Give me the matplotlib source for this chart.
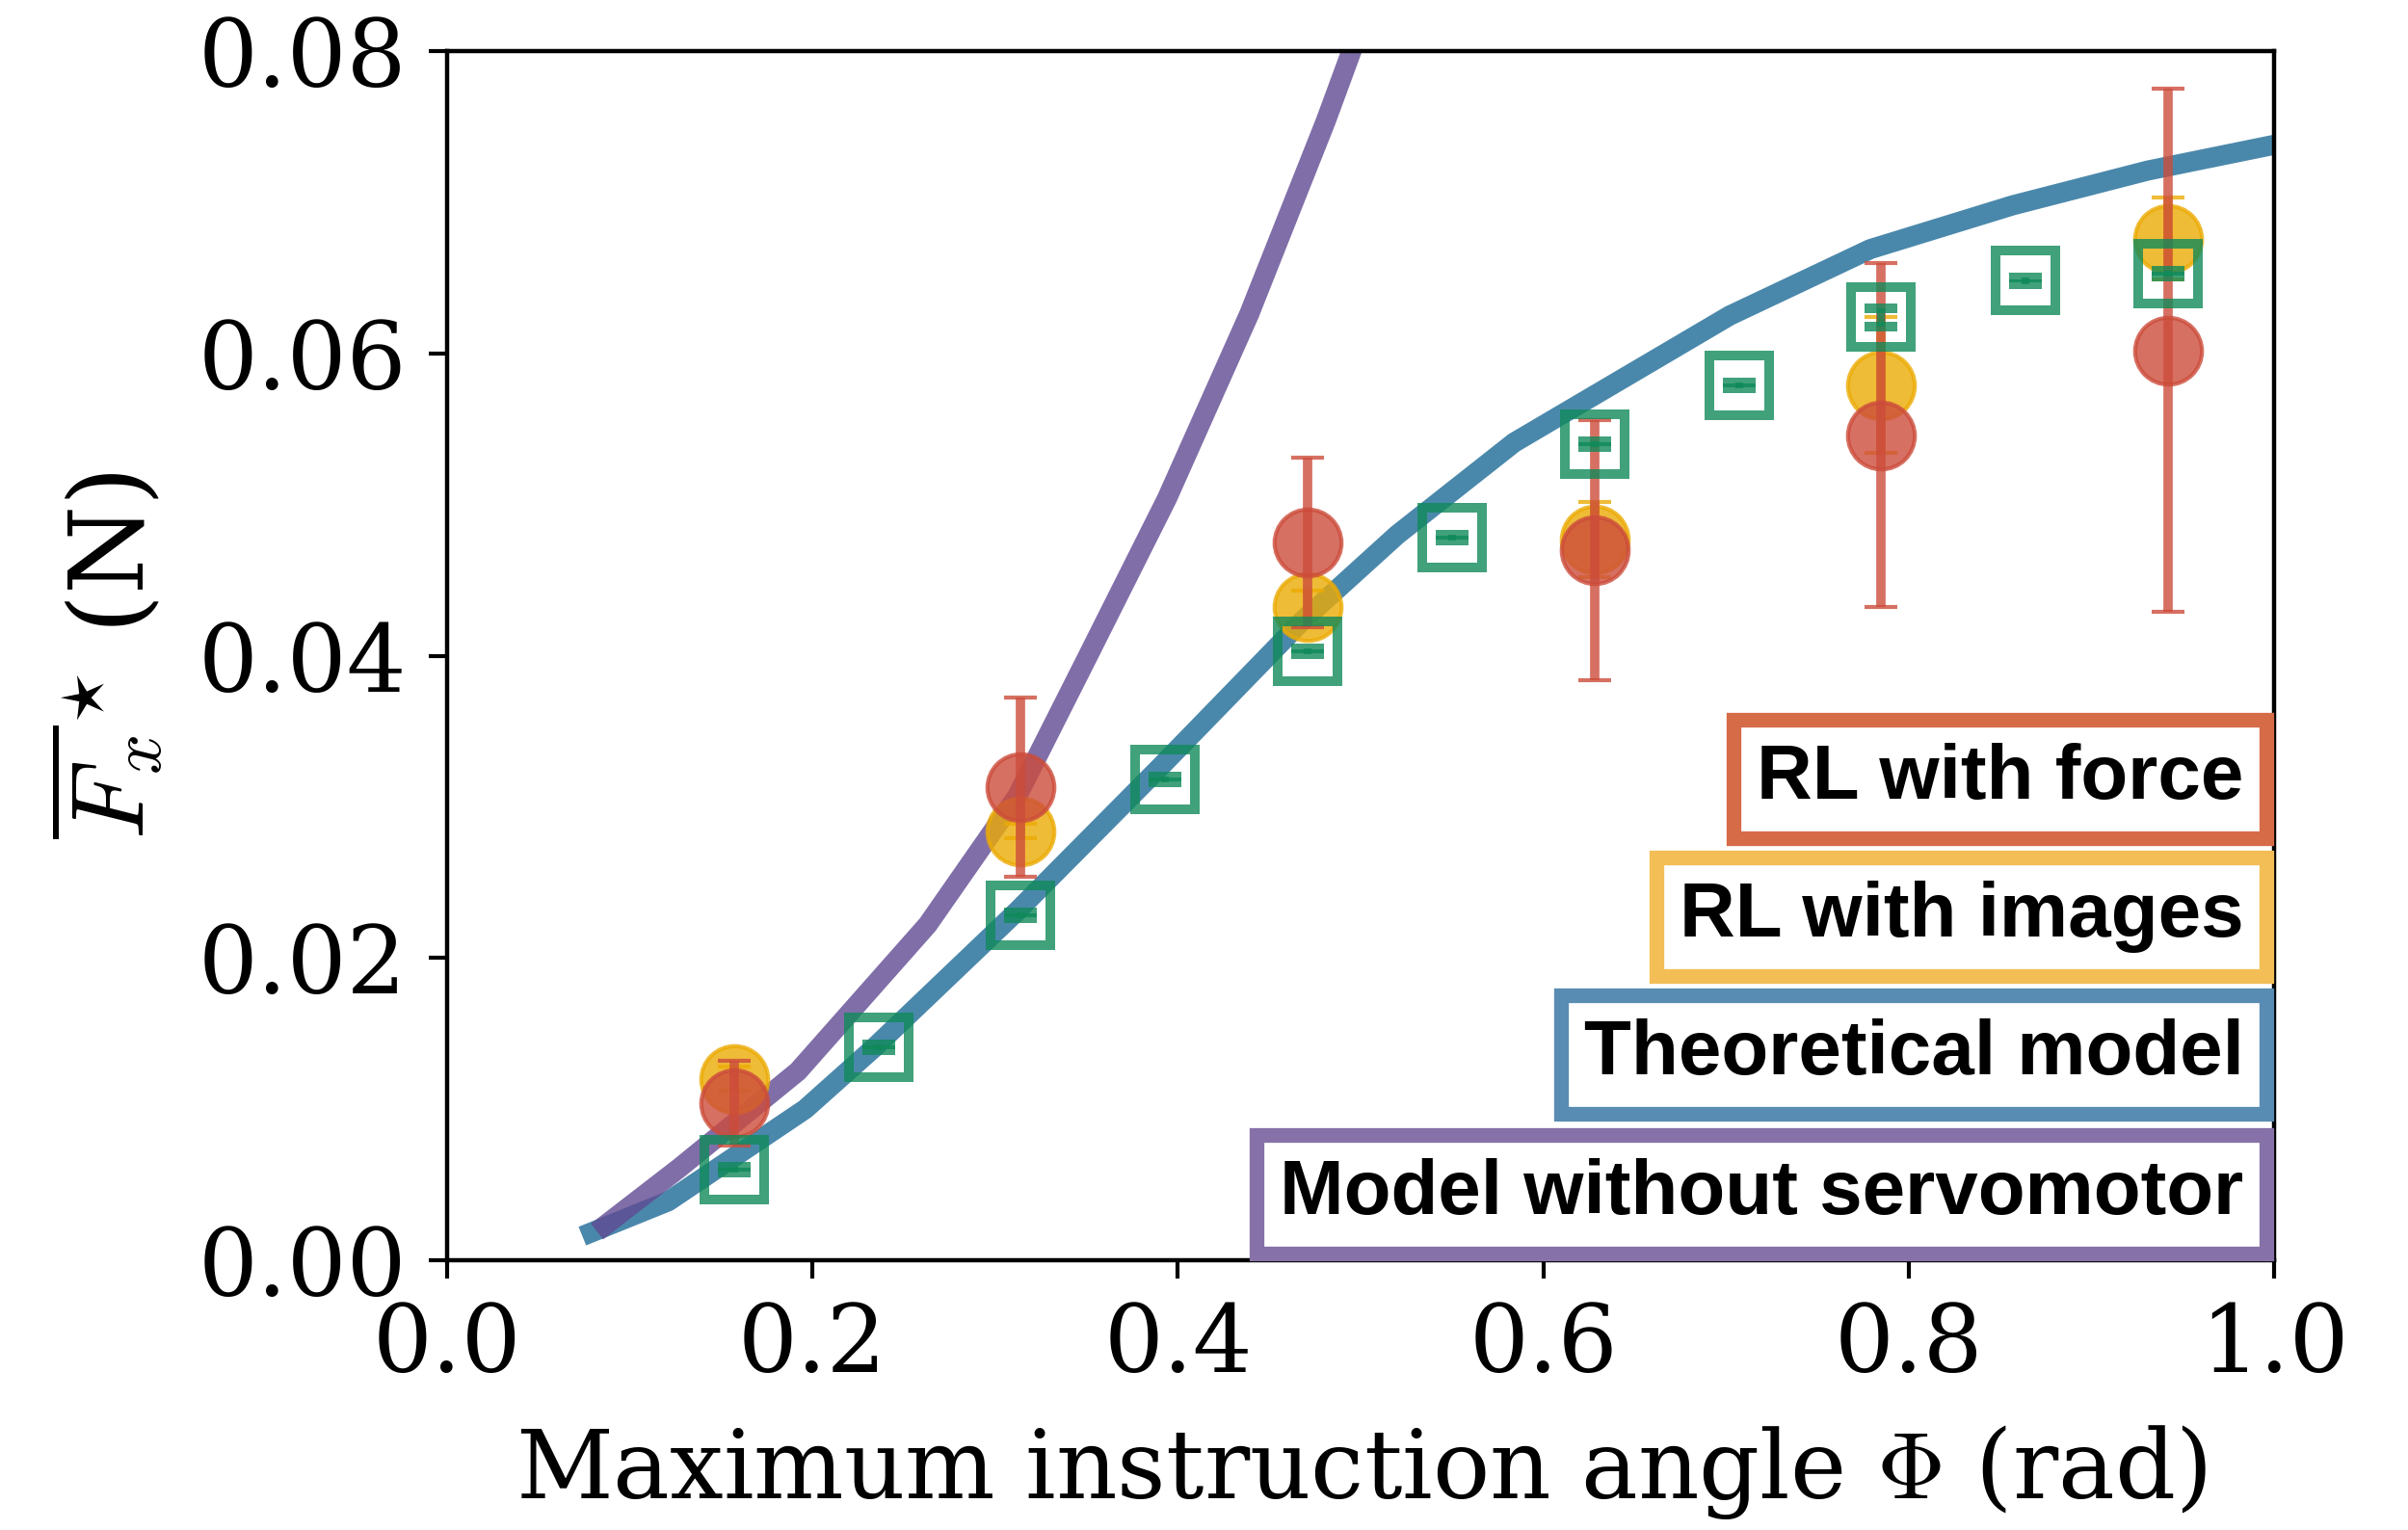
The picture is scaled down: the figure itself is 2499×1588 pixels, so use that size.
import matplotlib
matplotlib.use("Agg")
import matplotlib.pyplot as plt

# --- data ---
# theoretical model and model without servomotor (curves)
theo_x = [0.074, 0.121, 0.196, 0.234, 0.312, 0.390, 0.468, 0.520, 0.584,
          0.702, 0.779, 0.857, 0.931, 1.000]
theo_y = [0.0016, 0.0039, 0.0100, 0.0141, 0.0231, 0.0326, 0.0423, 0.0480,
          0.0541, 0.0625, 0.0669, 0.0698, 0.0721, 0.0738]

noservo_x = [0.082, 0.127, 0.192, 0.263, 0.312, 0.350, 0.394, 0.439, 0.481, 0.495, 0.520]
noservo_y = [0.0019, 0.0061, 0.0125, 0.0222, 0.0307, 0.0398, 0.0504, 0.0626,
             0.0754, 0.0800, 0.0880]

# simulated points (green squares)
sim_x = [0.157, 0.236, 0.314, 0.393, 0.471, 0.550, 0.628, 0.707, 0.785, 0.864, 0.942]
sim_y = [0.0060, 0.0141, 0.0228, 0.0318, 0.0403, 0.0478, 0.0540, 0.0579, 0.0624, 0.0648, 0.0653]
sim_err = [0.0002, 0.0002, 0.0002, 0.0002, 0.0002, 0.0002, 0.0002, 0.0002, 0.0006, 0.0002, 0.0002]

# RL points
rl_x = [0.157, 0.314, 0.471, 0.628, 0.785, 0.942]
img_y = [0.0120, 0.0284, 0.0432, 0.0477, 0.0579, 0.0676]
img_err = [0.0008, 0.0005, 0.0011, 0.0025, 0.0045, 0.0027]
force_y = [0.0104, 0.0313, 0.0475, 0.0470, 0.0546, 0.0602]
force_err = [0.0028, 0.0059, 0.0056, 0.0086, 0.0114, 0.0173]

legend_labels = ["RL with force", "RL with images", "Theoretical model", "Model without servomotor"]
legend_colors = ["#d66b47", "#f2be55", "#588cb2", "#8672a8"]

plt.rcParams["font.family"] = "DejaVu Serif"
plt.rcParams["mathtext.fontset"] = "cm"

fig = plt.figure(figsize=(12.495, 7.94), dpi=200)
ax = fig.add_axes([0.1857, 0.1763, 0.7587, 0.7903])

ax.plot(theo_x, theo_y, color="#1d6a96", alpha=0.8, lw=7.5, solid_capstyle="butt", zorder=2)
ax.plot(noservo_x, noservo_y, color="#604a92", alpha=0.8, lw=7.5, solid_capstyle="butt", zorder=2)

ax.errorbar(rl_x, img_y, yerr=img_err, fmt="o", color="#ecab05", alpha=0.8, ms=25,
            mew=1.5, elinewidth=3.5, capsize=6, capthick=2, zorder=3)
ax.errorbar(rl_x, force_y, yerr=force_err, fmt="o", color="#cc4c3b", alpha=0.8, ms=25,
            mew=1.5, elinewidth=3.5, capsize=6, capthick=2, zorder=4)
ax.errorbar(sim_x, sim_y, yerr=sim_err, fmt="s", color="#108a5a", mfc="none", alpha=0.8,
            ms=22.5, mew=3.6, elinewidth=3, capsize=6, capthick=3.5, zorder=5)

ax.set_xlim(0, 1.0)
ax.set_ylim(0, 0.08)
ax.set_xticks([0.0, 0.2, 0.4, 0.6, 0.8, 1.0])
ax.set_yticks([0.0, 0.02, 0.04, 0.06, 0.08])
ax.tick_params(labelsize=35, length=7, width=1.5, pad=8)
for s in ax.spines.values():
    s.set_linewidth(1.6)

ax.set_xlabel(r"Maximum instruction angle $\Phi$ (rad)", fontsize=35.5, labelpad=12)
ax.set_ylabel(r"$\overline{F_x}^{\star}$ (N)", fontsize=38, labelpad=12)

# framed text legend, stacked in the lower right corner, box edge on the right spine
fs = 28.8
pad = 0.3
lw = 5.5
ypos = [0.398, 0.284, 0.170, 0.055]
for lab, col, yy in zip(legend_labels, legend_colors, ypos):
    ax.annotate(lab, xy=(1.0, yy), xycoords="axes fraction",
                xytext=(-(pad * fs + lw / 2), 0), textcoords="offset points",
                ha="right", va="center", fontsize=fs, fontweight="bold",
                family="Liberation Sans", zorder=10,
                bbox=dict(boxstyle=f"square,pad={pad}", fc="white", ec=col, lw=lw))

fig.savefig("out.png", dpi=200)
